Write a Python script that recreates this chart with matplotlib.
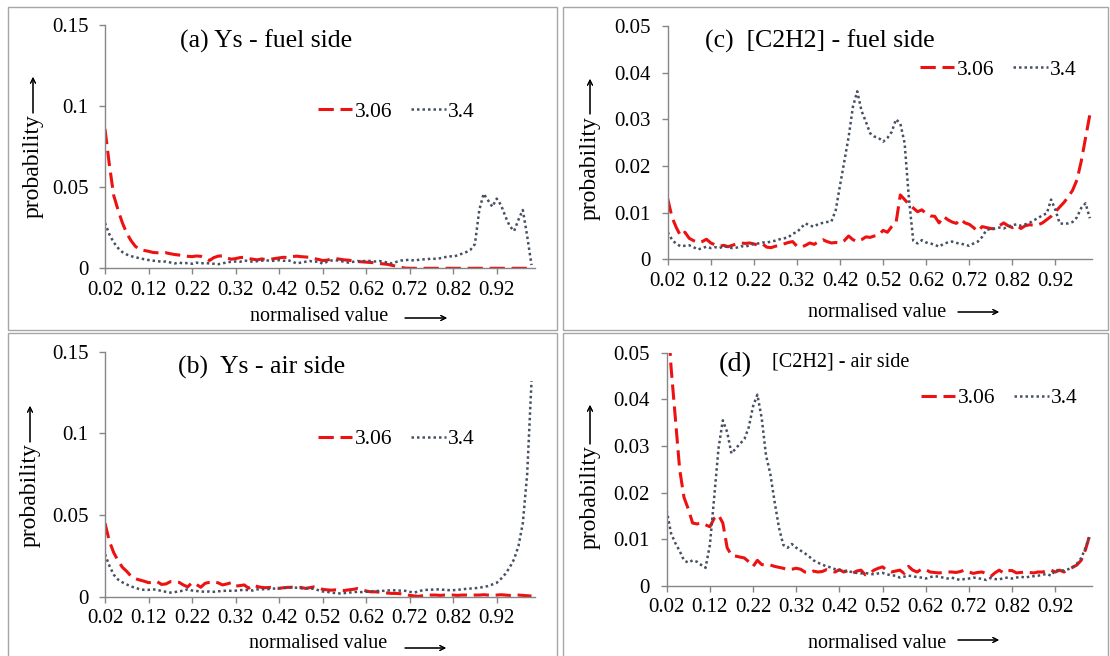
import numpy as np
import matplotlib
matplotlib.use("Agg")
import matplotlib.pyplot as plt
from matplotlib.patches import Rectangle
from matplotlib.lines import Line2D

# category axis: normalised value 0.02 ... 1.00
x = np.round(np.arange(0.02, 1.005, 0.01), 2)
xtick_vals = [0.02, 0.12, 0.22, 0.32, 0.42, 0.52, 0.62, 0.72, 0.82, 0.92]
xtick_labels = ["0.02", "0.12", "0.22", "0.32", "0.42", "0.52", "0.62", "0.72", "0.82", "0.92"]
ys_ticks = [0, 0.05, 0.1, 0.15]
ys_tick_labels = ["0", "0.05", "0.1", "0.15"]
c2h2_ticks = [0, 0.01, 0.02, 0.03, 0.04, 0.05]
c2h2_tick_labels = ["0", "0.01", "0.02", "0.03", "0.04", "0.05"]
series_names = ["3.06", "3.4"]

# (a) Ys - fuel side
ys_fuel_306 = [0.086, 0.064, 0.045, 0.036, 0.028, 0.0216, 0.017, 0.0135, 0.0115, 0.011,
               0.0105, 0.0098, 0.0096, 0.0094, 0.0096, 0.009, 0.0085, 0.0082, 0.0078, 0.0074,
               0.0072, 0.0076, 0.0074, 0.0065, 0.0048, 0.0066, 0.0075, 0.0077, 0.0064, 0.0056,
               0.006, 0.0066, 0.0068, 0.006, 0.0056, 0.0052, 0.0058, 0.0054, 0.0056, 0.006,
               0.0064, 0.0068, 0.0066, 0.0072, 0.0075, 0.0072, 0.007, 0.0068, 0.006, 0.0055,
               0.0048, 0.005, 0.0058, 0.006, 0.0056, 0.0052, 0.005, 0.0045, 0.0042, 0.004,
               0.0038, 0.0036, 0.0034, 0.003, 0.0027, 0.0024, 0.0018, 0.0012, 0.0006, 0.0001,
               0, 0, 0, 0, 0, 0, 0, 0, 0, 0,
               0, 0, 0, 0, 0, 0, 0, 0, 0, 0,
               0, 0, 0, 0, 0, 0, 0, 0, 0]
ys_fuel_34 = [0.028, 0.021, 0.016, 0.0125, 0.010, 0.0085, 0.0075, 0.0068, 0.0062, 0.0056,
              0.0051, 0.0047, 0.0045, 0.004, 0.0042, 0.0036, 0.003, 0.0035, 0.003, 0.0033,
              0.0028, 0.0035, 0.003, 0.0033, 0.003, 0.0028, 0.0025, 0.003, 0.0037, 0.004,
              0.0042, 0.004, 0.0048, 0.0045, 0.004, 0.0044, 0.0047, 0.005, 0.0045, 0.0047,
              0.005, 0.0046, 0.005, 0.0042, 0.003, 0.0035, 0.004, 0.0045, 0.004, 0.0042,
              0.0028, 0.004, 0.0048, 0.005, 0.0045, 0.004, 0.0035, 0.004, 0.0045, 0.0042,
              0.0047, 0.0045, 0.0042, 0.0045, 0.004, 0.0035, 0.003, 0.004, 0.0048, 0.005,
              0.0053, 0.0048, 0.0052, 0.0055, 0.0056, 0.006, 0.0058, 0.0062, 0.0068, 0.0075,
              0.0072, 0.008, 0.009, 0.010, 0.0115, 0.015, 0.036, 0.046, 0.042, 0.038,
              0.043, 0.039, 0.032, 0.026, 0.023, 0.030, 0.036, 0.020, 0.002]

# (b) Ys - air side
ys_air_306 = [0.045, 0.034, 0.027, 0.022, 0.018, 0.0155, 0.0125, 0.011, 0.0102, 0.0095,
              0.0086, 0.0088, 0.0092, 0.0075, 0.0078, 0.0092, 0.009, 0.0088, 0.0072, 0.006,
              0.0086, 0.0075, 0.0058, 0.0082, 0.0088, 0.0092, 0.0085, 0.0072, 0.0078, 0.0086,
              0.0065, 0.0068, 0.0072, 0.0052, 0.0072, 0.0062, 0.0057, 0.0055, 0.0057, 0.0055,
              0.0051, 0.0055, 0.0057, 0.0058, 0.0056, 0.0057, 0.0051, 0.0055, 0.006, 0.0055,
              0.0045, 0.0042, 0.004, 0.0042, 0.004, 0.0038, 0.0042, 0.0045, 0.005, 0.0044,
              0.0035, 0.003, 0.003, 0.0028, 0.0025, 0.0022, 0.002, 0.002, 0.0018, 0.0015,
              0.0008, 0.0005, 0.0002, 0.0006, 0.001, 0.001, 0.001, 0.0008, 0.001, 0.001,
              0.001, 0.0008, 0.001, 0.001, 0.0008, 0.001, 0.001, 0.0012, 0.001, 0.0008,
              0.001, 0.0012, 0.001, 0.0008, 0.001, 0.001, 0.0008, 0.0006, 0.0004]
ys_air_34 = [0.026, 0.019, 0.0135, 0.0105, 0.0088, 0.0075, 0.0062, 0.0055, 0.0045, 0.0042,
             0.0042, 0.0045, 0.0042, 0.0035, 0.003, 0.0025, 0.0028, 0.0033, 0.0037, 0.0045,
             0.0038, 0.0035, 0.0032, 0.003, 0.0032, 0.003, 0.0033, 0.0035, 0.0037, 0.0036,
             0.0037, 0.004, 0.0042, 0.004, 0.0038, 0.0045, 0.0046, 0.0045, 0.0048, 0.005,
             0.0052, 0.0053, 0.0055, 0.0057, 0.0055, 0.0052, 0.005, 0.0051, 0.0048, 0.004,
             0.0032, 0.003, 0.0025, 0.0022, 0.002, 0.0022, 0.0025, 0.0027, 0.003, 0.0028,
             0.003, 0.0032, 0.0035, 0.0035, 0.0036, 0.0038, 0.004, 0.0038, 0.0037, 0.0036,
             0.003, 0.0025, 0.0032, 0.004, 0.0042, 0.0043, 0.0045, 0.0044, 0.0042, 0.004,
             0.004, 0.0042, 0.0045, 0.0048, 0.005, 0.0052, 0.0055, 0.006, 0.0065, 0.0075,
             0.0085, 0.011, 0.014, 0.018, 0.023, 0.031, 0.045, 0.075, 0.132]

# (c) [C2H2] - fuel side
c2h2_fuel_306 = [0.013, 0.009, 0.0068, 0.005, 0.0058, 0.0045, 0.004, 0.0036, 0.0038, 0.0043,
                 0.0035, 0.0031, 0.0028, 0.003, 0.0027, 0.003, 0.0033, 0.0035, 0.0034, 0.0035,
                 0.0033, 0.003, 0.0033, 0.0026, 0.0025, 0.0028, 0.003, 0.0033, 0.0036, 0.0038,
                 0.0028, 0.0026, 0.003, 0.0035, 0.0032, 0.0038, 0.0042, 0.0038, 0.0035, 0.0036,
                 0.0035, 0.004, 0.005, 0.0042, 0.0038, 0.0042, 0.0048, 0.0047, 0.005, 0.0052,
                 0.0062, 0.0058, 0.007, 0.0078, 0.0138, 0.0128, 0.0118, 0.011, 0.0102, 0.0106,
                 0.0098, 0.0093, 0.0092, 0.0078, 0.0092, 0.0085, 0.008, 0.0077, 0.0086, 0.0078,
                 0.0075, 0.0068, 0.006, 0.007, 0.0068, 0.0066, 0.0065, 0.0072, 0.0078, 0.0072,
                 0.0068, 0.0073, 0.0066, 0.0072, 0.0074, 0.0073, 0.0074, 0.0078, 0.0085, 0.0092,
                 0.0102, 0.0112, 0.0122, 0.0134, 0.0148, 0.017, 0.021, 0.026, 0.031]
c2h2_fuel_34 = [0.0058, 0.0042, 0.0033, 0.0028, 0.0029, 0.003, 0.0026, 0.0021, 0.0024, 0.0027,
                0.0024, 0.0026, 0.0024, 0.0028, 0.0026, 0.0024, 0.0025, 0.0028, 0.0027, 0.003,
                0.0033, 0.0034, 0.0036, 0.0036, 0.0038, 0.004, 0.0043, 0.0045, 0.0047, 0.0055,
                0.0058, 0.0068, 0.0077, 0.0072, 0.007, 0.0076, 0.0078, 0.008, 0.0081, 0.0105,
                0.0158, 0.021, 0.0262, 0.0327, 0.036, 0.0318, 0.0295, 0.027, 0.0263, 0.026,
                0.0252, 0.026, 0.0273, 0.030, 0.0291, 0.0249, 0.013, 0.004, 0.0034, 0.0041,
                0.0036, 0.0034, 0.0031, 0.0027, 0.0033, 0.0036, 0.0038, 0.0035, 0.0034, 0.0031,
                0.0029, 0.0034, 0.0038, 0.0048, 0.0063, 0.0065, 0.0066, 0.0068, 0.0066, 0.007,
                0.0073, 0.0075, 0.0072, 0.0075, 0.0078, 0.0084, 0.0088, 0.0095, 0.0098, 0.0128,
                0.0106, 0.0077, 0.0076, 0.0077, 0.008, 0.009, 0.011, 0.012, 0.0088]

# (d) [C2H2] - air side
c2h2_air_306 = [0.062, 0.047, 0.036, 0.025, 0.019, 0.0165, 0.0135, 0.0133, 0.0135, 0.0131,
                0.0127, 0.0145, 0.0152, 0.0135, 0.0082, 0.0066, 0.0064, 0.0062, 0.006, 0.0052,
                0.0042, 0.0055, 0.0046, 0.0045, 0.0045, 0.0042, 0.004, 0.0038, 0.0035, 0.0036,
                0.0038, 0.0036, 0.003, 0.0028, 0.0032, 0.003, 0.0031, 0.0035, 0.0032, 0.003,
                0.0035, 0.003, 0.0033, 0.0027, 0.0032, 0.0034, 0.0024, 0.0027, 0.0034, 0.0038,
                0.0041, 0.0033, 0.003, 0.0032, 0.0034, 0.0027, 0.0042, 0.0034, 0.003, 0.0036,
                0.0035, 0.003, 0.0029, 0.0028, 0.0029, 0.003, 0.003, 0.0029, 0.0031, 0.0034,
                0.003, 0.0027, 0.0029, 0.003, 0.0027, 0.002, 0.0028, 0.0034, 0.0028, 0.0033,
                0.0033, 0.0028, 0.0029, 0.003, 0.0029, 0.0028, 0.003, 0.003, 0.0032, 0.0034,
                0.003, 0.0034, 0.003, 0.0035, 0.004, 0.0045, 0.0055, 0.0078, 0.011]
c2h2_air_34 = [0.0162, 0.0113, 0.0092, 0.0075, 0.0055, 0.005, 0.0055, 0.0052, 0.0045, 0.0039,
               0.0088, 0.019, 0.0295, 0.0355, 0.033, 0.0284, 0.0295, 0.0305, 0.0315, 0.034,
               0.0385, 0.041, 0.036, 0.028, 0.024, 0.018, 0.0125, 0.0088, 0.0082, 0.009,
               0.0082, 0.0076, 0.007, 0.0063, 0.0055, 0.005, 0.0046, 0.0042, 0.004, 0.0036,
               0.0034, 0.0033, 0.0031, 0.003, 0.0028, 0.0027, 0.0028, 0.0026, 0.0025, 0.0027,
               0.0028, 0.0025, 0.0023, 0.0022, 0.0018, 0.002, 0.0022, 0.0021, 0.0019, 0.0018,
               0.0016, 0.0019, 0.0021, 0.002, 0.0018, 0.0016, 0.0018, 0.0015, 0.0013, 0.0015,
               0.0016, 0.0018, 0.0017, 0.0015, 0.0013, 0.0017, 0.0015, 0.0014, 0.0017, 0.0018,
               0.0016, 0.0018, 0.002, 0.0018, 0.002, 0.0021, 0.0022, 0.0024, 0.0026, 0.0022,
               0.0034, 0.0034, 0.0033, 0.0036, 0.004, 0.0048, 0.006, 0.0082, 0.0108]

W, H = 1110, 656
RED = "#ee1111"
GREY = "#465063"
AXIS_GREY = "#868686"
SERIF = "Liberation Serif"
RED_LW, RED_DASH = 2.2, (5.0, 2.2)
GREY_LW, GREY_DOT = 1.8, (0, (1, 1.2))

plt.rcParams["font.family"] = [SERIF, "DejaVu Sans"]


def fx(px):
    return px / W


def fy(py):
    return 1 - py / H


def make_axes(fig, left, right, top, bottom):
    return fig.add_axes([fx(left), fy(bottom), (right - left) / W, (bottom - top) / H])


def style_axes(ax, xmax, ymax, yticks, ylabels):
    ax.set_xlim(0.02, xmax)
    ax.set_ylim(0, ymax)
    ax.set_xticks(xtick_vals)
    ax.set_xticklabels(xtick_labels)
    ax.set_yticks(yticks)
    ax.set_yticklabels(ylabels)
    for s in ["top", "right"]:
        ax.spines[s].set_visible(False)
    for s in ["left", "bottom"]:
        ax.spines[s].set_color(AXIS_GREY)
        ax.spines[s].set_linewidth(1.0)
    ax.tick_params(axis="both", direction="out", length=4, width=1, color=AXIS_GREY,
                   labelsize=15, labelcolor="black")
    ax.tick_params(axis="x", pad=5)
    ax.tick_params(axis="y", pad=8)
    ax.patch.set_alpha(0)


def draw_series(ax, red_vals, grey_vals):
    ax.plot(x, red_vals, color=RED, lw=RED_LW, dashes=RED_DASH)
    ax.plot(x, grey_vals, color=GREY, lw=GREY_LW, linestyle=GREY_DOT)


def add_legend(ax, fig, left_px, y_px):
    handles = [Line2D([], [], color=RED, lw=RED_LW, dashes=RED_DASH),
               Line2D([], [], color=GREY, lw=GREY_LW, linestyle=GREY_DOT)]
    ax.legend(handles, series_names, loc="center left",
              bbox_to_anchor=(fx(left_px), fy(y_px)), bbox_transform=fig.transFigure,
              ncol=2, frameon=False, borderpad=0, borderaxespad=0,
              handlelength=1.6, handletextpad=0.1, columnspacing=0.9,
              prop={"family": SERIF, "size": 15.5})


def arrow(fig, x0, y0, x1, y1):
    fig.add_artist(plt.annotate("", xy=(fx(x1), fy(y1)), xytext=(fx(x0), fy(y0)),
                                xycoords=fig.transFigure, textcoords=fig.transFigure,
                                arrowprops=dict(arrowstyle="->", lw=0.8, color="black",
                                                shrinkA=0, shrinkB=0, mutation_scale=9)))


def add_labels(fig, ylab_x, ylab_yc, yarrow, xlab_xc, xlab_y, xarrow):
    fig.text(fx(ylab_x), fy(ylab_yc), "probability", rotation=90, ha="center", va="center",
             fontsize=17, family=SERIF)
    arrow(fig, ylab_x, yarrow[0], ylab_x, yarrow[1])
    fig.text(fx(xlab_xc), fy(xlab_y), "normalised value", ha="center", va="center",
             fontsize=14.5, family=SERIF)
    arrow(fig, xarrow[0], xarrow[2], xarrow[1], xarrow[2])


fig = plt.figure(figsize=(W / 100, H / 100), dpi=100)
fig.patch.set_facecolor("white")

# panel boxes
for (l, t, r, b) in [(7.5, 7, 557, 330), (563, 7, 1108, 330), (7.5, 333, 557, 662), (563, 333, 1108, 662)]:
    fig.add_artist(Rectangle((fx(l), fy(b)), (r - l) / W, (b - t) / H, transform=fig.transFigure,
                             fill=False, ec="#a6a6a6", lw=1.0))

# (a)
ax_a = make_axes(fig, 105, 535, 25.3, 268.3)
style_axes(ax_a, 1.008, 0.15, ys_ticks, ys_tick_labels)
draw_series(ax_a, ys_fuel_306, ys_fuel_34)
add_legend(ax_a, fig, 318, 112)
fig.text(fx(180), fy(41), "(a) Ys - fuel side", ha="left", va="center", fontsize=18.5, family=SERIF)
add_labels(fig, 33, 166, (113, 77), 319.5, 317, (405, 447, 318))

# (c)
ax_c = make_axes(fig, 667.7, 1092, 26, 259.3)
style_axes(ax_c, 1.005, 0.05, c2h2_ticks, c2h2_tick_labels)
draw_series(ax_c, c2h2_fuel_306, c2h2_fuel_34)
add_legend(ax_c, fig, 920, 70)
fig.text(fx(705), fy(41), "(c)  [C2H2] - fuel side", ha="left", va="center", fontsize=18.5, family=SERIF)
add_labels(fig, 590, 168, (114, 79), 877.5, 313, (958, 999, 312))

# (b)
ax_b = make_axes(fig, 105, 535, 351.7, 596.7)
style_axes(ax_b, 1.008, 0.15, ys_ticks, ys_tick_labels)
draw_series(ax_b, ys_air_306, ys_air_34)
add_legend(ax_b, fig, 318, 439)
fig.text(fx(178), fy(367), "(b)  Ys - air side", ha="left", va="center", fontsize=18.5, family=SERIF)
add_labels(fig, 30, 495, (442, 406), 318.5, 643, (405, 446, 648))

# (d)
ax_d = make_axes(fig, 666.7, 1092, 352.7, 586)
style_axes(ax_d, 1.005, 0.05, c2h2_ticks, c2h2_tick_labels)
draw_series(ax_d, c2h2_air_306, c2h2_air_34)
add_legend(ax_d, fig, 921, 398)
fig.text(fx(719), fy(365), "(d)", ha="left", va="center", fontsize=20.5, family=SERIF)
fig.text(fx(772), fy(362), "[C2H2] - air side", ha="left", va="center", fontsize=14.5, family=SERIF)
add_labels(fig, 590, 497, (444, 405), 877.5, 643, (958, 999, 640))

fig.savefig("out.png", dpi=100)
